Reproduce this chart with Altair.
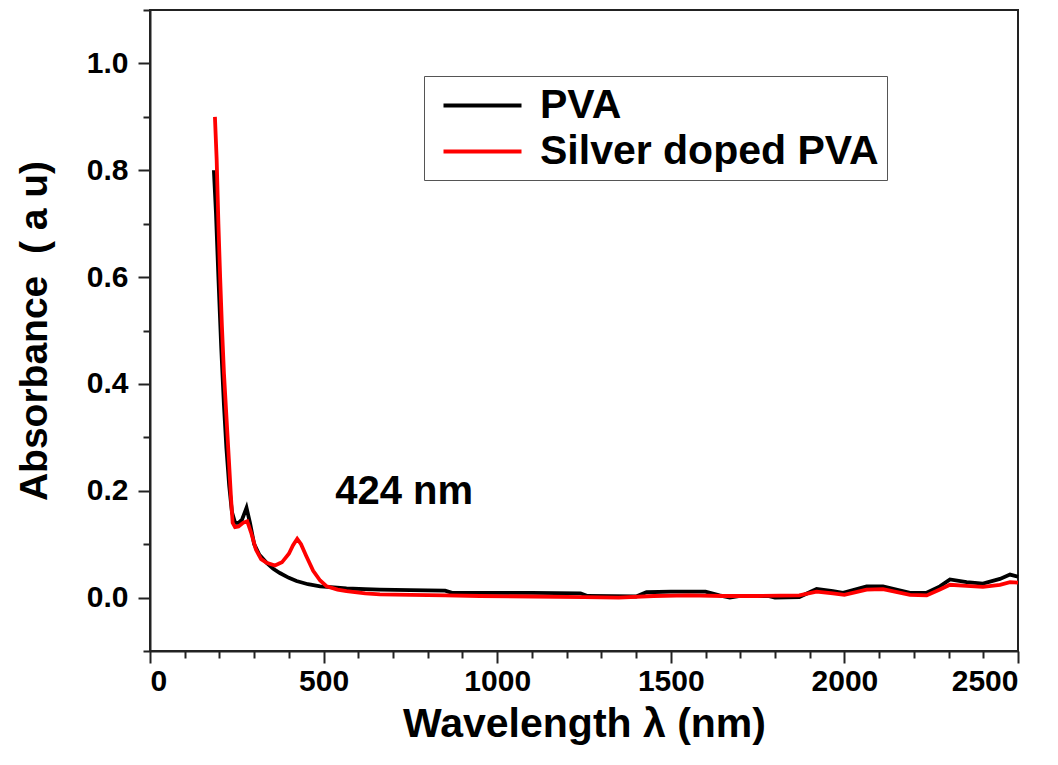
import altair as alt
import pandas as pd

# ---- data ----
series_names = ["PVA", "Silver doped PVA"]
series_colors = ["#000000", "#ff0000"]

wl_pva = [184, 190, 197, 205, 213, 220, 228, 236, 245, 255, 265, 278, 288, 300, 315, 336,
          355, 374, 400, 422, 455, 490, 530, 566, 620, 662, 750, 850, 870, 950, 1100, 1240,
          1260, 1400, 1430, 1500, 1600, 1640, 1670, 1700, 1780, 1800, 1870, 1920, 1967, 1996,
          2064, 2111, 2189, 2237, 2275, 2304, 2352, 2399, 2448, 2477, 2500]
abs_pva = [0.80, 0.72, 0.60, 0.47, 0.36, 0.28, 0.21, 0.16, 0.14, 0.14, 0.146, 0.168, 0.14,
           0.10, 0.08, 0.065, 0.054, 0.046, 0.037, 0.031, 0.025, 0.021, 0.019, 0.017, 0.016,
           0.015, 0.014, 0.013, 0.009, 0.009, 0.009, 0.008, 0.003, 0.002, 0.010, 0.011, 0.011,
           0.004, 0.000, 0.003, 0.003, 0.000, 0.001, 0.016, 0.012, 0.009, 0.021, 0.021, 0.009,
           0.009, 0.021, 0.034, 0.029, 0.026, 0.035, 0.043, 0.039]

wl_ag = [187, 192, 197, 202, 207, 213, 220, 227, 233, 238, 245, 255, 268, 280, 292, 305, 320,
         336, 360, 380, 400, 412, 424, 435, 450, 470, 490, 509, 540, 566, 620, 662, 750, 850,
         950, 1100, 1250, 1350, 1450, 1550, 1650, 1750, 1870, 1920, 1967, 2000, 2064, 2111,
         2189, 2237, 2275, 2304, 2352, 2399, 2448, 2477, 2500]
abs_ag = [0.90, 0.82, 0.70, 0.60, 0.51, 0.42, 0.34, 0.26, 0.19, 0.14, 0.132, 0.133, 0.140,
          0.143, 0.12, 0.09, 0.072, 0.065, 0.060, 0.066, 0.082, 0.098, 0.110, 0.100, 0.078,
          0.050, 0.032, 0.021, 0.015, 0.012, 0.008, 0.006, 0.005, 0.004, 0.003, 0.002, 0.001,
          0.000, 0.003, 0.004, 0.003, 0.003, 0.004, 0.011, 0.008, 0.005, 0.015, 0.016, 0.005,
          0.004, 0.015, 0.024, 0.022, 0.020, 0.024, 0.029, 0.028]

x_major = [0, 500, 1000, 1500, 2000, 2500]
x_minor = [v for v in range(100, 2500, 100) if v % 500 != 0]
y_major = [0.0, 0.2, 0.4, 0.6, 0.8, 1.0]
y_minor = [-0.1, 0.1, 0.3, 0.5, 0.7, 0.9, 1.1]

annot_text = ["424 nm"]
annot_x = [732]
annot_y = [0.198]

x_title = "Wavelength λ (nm)"
y_title = "Absorbance\u00a0 ( a u)"

FONT = "Liberation Sans, Arial, Helvetica, sans-serif"

# ---- tables ----
df = pd.concat([
    pd.DataFrame({"wl": wl_pva, "abs": abs_pva, "series": series_names[0]}),
    pd.DataFrame({"wl": wl_ag, "abs": abs_ag, "series": series_names[1]}),
], ignore_index=True)
df_annot = pd.DataFrame({"label": annot_text, "wl": annot_x, "abs": annot_y})

xscale = alt.Scale(domain=[0, 2500], nice=False, zero=False)
yscale = alt.Scale(domain=[-0.1, 1.1], nice=False, zero=False)

lines = alt.Chart(df).mark_line(strokeWidth=3.8).encode(
    x=alt.X("wl:Q", scale=xscale,
            axis=alt.Axis(orient="bottom", values=x_major, format="d", title=x_title,
                          tickSize=12, labelPadding=3, titlePadding=8,
                          labelFontSize=30, titleFontSize=41)),
    y=alt.Y("abs:Q", scale=yscale,
            axis=alt.Axis(orient="left", values=y_major, format=".1f", title=y_title,
                          tickSize=12, labelPadding=10, titlePadding=32,
                          labelFontSize=30, titleFontSize=39)),
    color=alt.Color("series:N",
                    scale=alt.Scale(domain=series_names, range=series_colors),
                    legend=alt.Legend(orient="none", legendX=274, legendY=66, title=None,
                                      symbolType="M-2,0H2", symbolSize=1521,
                                      symbolStrokeWidth=4, symbolOffset=29,
                                      labelFontSize=41,
                                      labelFont=FONT, labelFontWeight="bold",
                                      labelLimit=600, labelOffset=36,
                                      strokeColor="#555", padding=8, rowPadding=4)),
)

annot = alt.Chart(df_annot).mark_text(
    font=FONT, fontSize=40, fontWeight="bold", color="black", align="center", baseline="middle"
).encode(
    x=alt.X("wl:Q", scale=xscale, axis=None),
    y=alt.Y("abs:Q", scale=yscale, axis=None),
    text="label:N",
)

minor = alt.Chart(df).mark_line(opacity=0).encode(
    x=alt.X("wl:Q", scale=xscale,
            axis=alt.Axis(orient="bottom", values=x_minor, tickSize=7, labels=False,
                          domain=False, title=None)),
    y=alt.Y("abs:Q", scale=yscale,
            axis=alt.Axis(orient="left", values=y_minor, tickSize=7, labels=False,
                          domain=False, title=None)),
    detail="series:N",
)

chart = alt.layer(lines, annot, minor).resolve_axis(
    x="independent", y="independent"
).properties(
    width=868, height=641,
    autosize=alt.AutoSizeParams(type="none"),
    padding={"left": 150, "top": 10, "right": 40, "bottom": 114},
    background="white",
).configure_view(
    stroke="#222", strokeWidth=2
).configure_axis(
    grid=False, domainColor="#222", domainWidth=2, tickColor="#222", tickWidth=2,
    labelFont=FONT, labelFontWeight="bold", labelColor="black",
    titleFont=FONT, titleFontWeight="bold", titleColor="black",
)

chart.save("out.html", embed_options={"renderer": "svg", "actions": False})
